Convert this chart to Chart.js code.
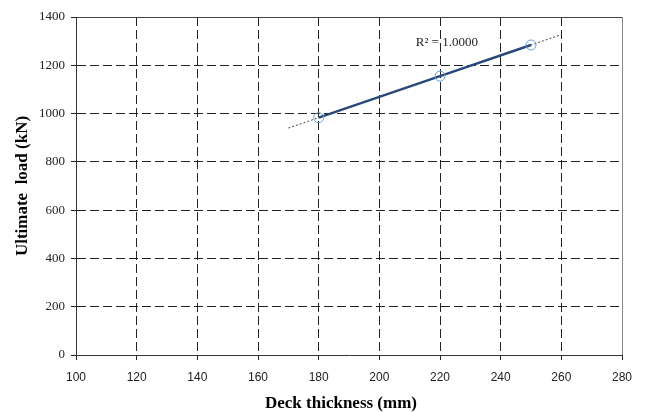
<!DOCTYPE html>
<html>
<head>
<meta charset="utf-8">
<script src="https://cdn.jsdelivr.net/npm/chart.js@4/dist/chart.umd.min.js"></script>
<style>
  html, body { margin: 0; padding: 0; background: #fff; }
  #wrap { width: 646px; height: 412px; position: relative; }
</style>
</head>
<body>
<div id="wrap"><canvas id="chart"></canvas></div>
<script>
// Deck thickness (mm) and ultimate load (kN)
const thickness = [180, 220, 250];
const ultimateLoad = [983, 1155, 1284];

// Axis ranges and tick steps
const xRange = [100, 280];
const xStep = 20;
const yRange = [0, 1400];
const yStep = 200;

// Extent of the fitted trendline
const trendRange = [170, 260];

// Least-squares linear fit of the measured points
function linearFit(xs, ys) {
  const n = xs.length;
  const mx = xs.reduce((a, b) => a + b, 0) / n;
  const my = ys.reduce((a, b) => a + b, 0) / n;
  let sxy = 0, sxx = 0, syy = 0;
  for (let i = 0; i < n; i++) {
    sxy += (xs[i] - mx) * (ys[i] - my);
    sxx += (xs[i] - mx) ** 2;
    syy += (ys[i] - my) ** 2;
  }
  const slope = sxy / sxx;
  const intercept = my - slope * mx;
  const r2 = (sxy * sxy) / (sxx * syy);
  return { slope, intercept, r2 };
}

const fit = linearFit(thickness, ultimateLoad);
const measured = thickness.map((x, i) => ({ x, y: ultimateLoad[i] }));
const trend = trendRange.map(x => ({ x, y: fit.intercept + fit.slope * x }));

// Solid frame on the top and right edges, the x-axis title and the R² note
const framePlugin = {
  id: 'frame',
  afterDraw(chart) {
    const { ctx, chartArea: a, scales } = chart;
    ctx.save();
    ctx.lineWidth = 1;
    ctx.strokeStyle = '#444';
    ctx.beginPath();
    ctx.moveTo(a.left, a.top + 0.5);
    ctx.lineTo(a.right, a.top + 0.5);
    ctx.stroke();
    ctx.strokeStyle = '#8a8a8a';
    ctx.beginPath();
    ctx.moveTo(a.right + 0.5, a.top);
    ctx.lineTo(a.right + 0.5, a.bottom);
    ctx.stroke();

    ctx.font = 'bold 17px "Liberation Serif", serif';
    ctx.fillStyle = '#000';
    ctx.textAlign = 'center';
    ctx.textBaseline = 'middle';
    ctx.fillText('Deck thickness (mm)', 341, 404);

    const tx = scales.x.getPixelForValue(212);
    const ty = scales.y.getPixelForValue(1296);
    ctx.font = '13px "Liberation Serif", serif';
    ctx.fillStyle = '#222';
    ctx.textAlign = 'left';
    ctx.fillText('R\u00B2 = ' + fit.r2.toFixed(4), tx, ty);
    ctx.restore();
  }
};

new Chart(document.getElementById('chart'), {
  type: 'scatter',
  data: {
    datasets: [
      {
        label: 'Trend',
        data: trend,
        showLine: true,
        borderColor: '#444',
        borderWidth: 1,
        borderDash: [2, 2],
        pointRadius: 0,
        fill: false,
        order: 2
      },
      {
        label: 'Ultimate load',
        data: measured,
        showLine: true,
        borderColor: '#27497a',
        borderWidth: 2.5,
        pointRadius: 5,
        pointBorderWidth: 1,
        pointBorderColor: '#6c9bd4',
        pointBackgroundColor: 'rgba(0,0,0,0)',
        fill: false,
        order: 1
      }
    ]
  },
  options: {
    responsive: true,
    maintainAspectRatio: false,
    animation: false,
    layout: { padding: { top: 17, right: 24, left: 0, bottom: 0 } },
    plugins: { legend: { display: false }, tooltip: { enabled: false } },
    scales: {
      x: {
        type: 'linear',
        min: xRange[0],
        max: xRange[1],
        ticks: {
          stepSize: xStep,
          padding: 10,
          color: '#222',
          font: { family: '"Liberation Sans", sans-serif', size: 12 },
          maxRotation: 0,
          callback: v => String(v)
        },
        grid: {
          color: '#222',
          lineWidth: 1,
          drawTicks: true,
          tickLength: 5,
          tickColor: '#222'
        },
        border: { display: true, color: '#333', width: 1, dash: [9, 4] },
        afterFit(scale) { scale.height = 57; }
      },
      y: {
        type: 'linear',
        min: yRange[0],
        max: yRange[1],
        ticks: {
          stepSize: yStep,
          padding: 6,
          color: '#222',
          font: { family: '"Liberation Serif", serif', size: 13 },
          callback: v => String(v)
        },
        grid: {
          color: '#222',
          lineWidth: 1,
          drawTicks: true,
          tickLength: 5,
          tickColor: '#222'
        },
        border: { display: true, color: '#333', width: 1, dash: [9, 4] },
        title: {
          display: true,
          text: 'Ultimate  load (kN)',
          color: '#000',
          font: { family: '"Liberation Serif", serif', size: 17, weight: 'bold', lineHeight: 1 },
          padding: { top: 14, bottom: 0 }
        },
        afterFit(scale) { scale.width = 76; }
      }
    }
  },
  plugins: [framePlugin]
});
</script>
</body>
</html>
